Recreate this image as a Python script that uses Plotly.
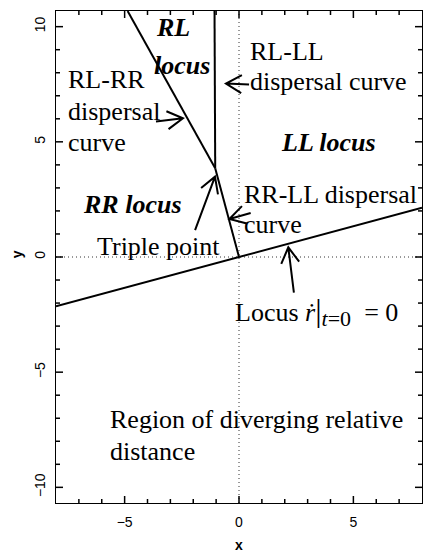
import plotly.graph_objects as go
import math

# ---------------- data ----------------
X_RANGE = [-8, 8]
Y_RANGE = [-10.68, 10.68]

# locus  r'(0) = 0 (line through origin)
locus_x = [-8.0, 8.0]
locus_y = [-2.14, 2.14]
# RR-LL dispersal curve (triple point -> origin)
rrll_x = [-1.04, 0.0]
rrll_y = [3.85, 0.0]
# RL-RR dispersal curve (triple point -> upper left)
rlrr_x = [-1.04, -4.87]
rlrr_y = [3.85, 10.68]
# RL-LL dispersal curve (triple point -> top, near vertical)
rlll_x = [-1.04, -1.07]
rlll_y = [3.85, 10.68]

# tick positions
x_major = [-5, 0, 5]
y_major = [-10, -5, 0, 5, 10]
x_minor = list(range(-7, 8))
y_minor = list(range(-10, 11))

# annotation arrows: (tail_x, tail_y, tip_x, tip_y) in data units
ARROWS = [
    (-3.63, 5.88, -2.45, 6.02),   # RL-RR dispersal curve
    (0.44, 7.49, -0.57, 7.53),    # RL-LL dispersal curve
    (-1.92, 1.17, -1.05, 3.49),   # Triple point
    (0.51, 1.91, -0.42, 1.65),    # RR-LL dispersal curve
    (2.40, -1.55, 2.155, 0.42),   # Locus
]

# ---------------- geometry ----------------
W, H = 423, 552
ML, MR, MT, MB = 56, 1, 11, 49
PW = W - ML - MR
PH = H - MT - MB
sx = PW / (X_RANGE[1] - X_RANGE[0])   # px per x unit
sy = PH / (Y_RANGE[1] - Y_RANGE[0])   # px per y unit


def px2x(px):
    return X_RANGE[0] + (px - ML) / sx


def py2y(py):
    return Y_RANGE[1] - (py - MT) / sy


SERIF = "Liberation Serif, Times New Roman, serif"
SANS = "Liberation Sans, Arial, sans-serif"
FS = 26

fig = go.Figure()

line_style = dict(color="black", width=2)
for xs, ys in [(locus_x, locus_y), (rrll_x, rrll_y), (rlrr_x, rlrr_y), (rlll_x, rlll_y)]:
    fig.add_trace(go.Scatter(x=xs, y=ys, mode="lines", line=line_style,
                             hoverinfo="skip", showlegend=False))

# dotted reference lines
fig.add_shape(type="line", xref="x", yref="y", x0=0, x1=0, y0=Y_RANGE[0], y1=Y_RANGE[1],
              line=dict(color="#333", width=1, dash="1px,3px"), layer="below")
fig.add_shape(type="line", xref="x", yref="y", x0=X_RANGE[0], x1=X_RANGE[1], y0=0, y1=0,
              line=dict(color="#333", width=1, dash="1px,3px"), layer="below")

# inward tick marks on all four sides (R box style), built from the tick lists
tx_, ty_ = [], []
for v in x_minor:
    L = (7 if v in x_major else 4) / sy
    tx_ += [v, v, None, v, v, None]
    ty_ += [Y_RANGE[0], Y_RANGE[0] + L, None, Y_RANGE[1], Y_RANGE[1] - L, None]
for v in y_minor:
    L = (7 if v in y_major else 4) / sx
    tx_ += [X_RANGE[0], X_RANGE[0] + L, None, X_RANGE[1], X_RANGE[1] - L, None]
    ty_ += [v, v, None, v, v, None]
fig.add_trace(go.Scatter(x=tx_, y=ty_, mode="lines", line=dict(color="black", width=1.5),
                         hoverinfo="skip", showlegend=False, cliponaxis=False))

# arrows with open V heads (R style)
HEAD = 18.0
ANG = math.radians(30)
for (tx, ty, hx, hy) in ARROWS:
    dxp = (tx - hx) * sx
    dyp = (ty - hy) * sy
    L = math.hypot(dxp, dyp)
    ux, uy = dxp / L, dyp / L
    pts = []
    for s in (1, -1):
        c, sn = math.cos(s * ANG), math.sin(s * ANG)
        rx = ux * c - uy * sn
        ry = ux * sn + uy * c
        pts.append((hx + rx * HEAD / sx, hy + ry * HEAD / sy))
    path = (f"M {tx} {ty} L {hx} {hy} "
            f"M {pts[0][0]} {pts[0][1]} L {hx} {hy} L {pts[1][0]} {pts[1][1]}")
    fig.add_shape(type="path", xref="x", yref="y", path=path,
                  line=dict(color="black", width=2))

# text labels: (left px, baseline px, text)
LOCUS_TXT = ("Locus <i>ṙ</i><span style='font-size:32px'>|</span>"
             "<sub><span style='font-size:22px'><i>t</i>=0</span></sub>"
             "&nbsp; = 0")
LABELS = [
    (68.3, 88, "RL-RR"),
    (68.3, 120.7, "dispersal"),
    (68.3, 151.7, "curve"),
    (82.7, 213.3, "<b><i>RR locus</i></b>"),
    (96.7, 255, "Triple point"),
    (156, 36, "<b><i>RL</i></b>"),
    (154.3, 74.5, "<b><i>locus</i></b>"),
    (250.3, 60, "RL-LL"),
    (250.3, 90.7, "dispersal curve"),
    (281, 151.7, "<b><i>LL locus</i></b>"),
    (244.3, 203.3, "RR-LL dispersal"),
    (244.3, 233.3, "curve"),
    (235, 320, LOCUS_TXT),
    (110, 428.5, "Region of diverging relative"),
    (110, 460, "distance"),
]
for (lx, by, txt) in LABELS:
    fig.add_annotation(x=px2x(lx), y=py2y(by - 0.3375 * FS), xref="x", yref="y",
                       text=txt, showarrow=False, xanchor="left", yanchor="middle",
                       borderpad=0, borderwidth=0,
                       font=dict(family=SERIF, size=FS, color="black"))

# axis titles (paper coords are relative to the plot area)
fig.add_annotation(x=0.5, y=(H - MB - 545) / PH, xref="paper", yref="paper",
                   text="<b>x</b>", showarrow=False, xanchor="center", yanchor="middle",
                   font=dict(family=SANS, size=14, color="black"))
fig.add_annotation(x=(17.3 - ML) / PW, y=(H - MB - 254) / PH, xref="paper", yref="paper",
                   text="<b>y</b>", showarrow=False, xanchor="center", yanchor="middle",
                   textangle=-90, font=dict(family=SANS, size=14, color="black"))

axis_common = dict(
    showgrid=False, zeroline=False, showline=True, linecolor="black", linewidth=1,
    mirror=True, ticks="", tickmode="array",
    tickfont=dict(family=SANS, size=14, color="black"),
)
fig.update_layout(
    width=W, height=H, margin=dict(l=ML, r=MR, t=MT, b=MB, pad=0),
    plot_bgcolor="white", paper_bgcolor="white", showlegend=False,
    xaxis=dict(range=X_RANGE, tickvals=x_major, ticklabelstandoff=6, **axis_common),
    yaxis=dict(range=Y_RANGE, tickvals=y_major, tickangle=-90, ticklabelstandoff=4,
               **axis_common),
)

fig.write_html("out.html")
